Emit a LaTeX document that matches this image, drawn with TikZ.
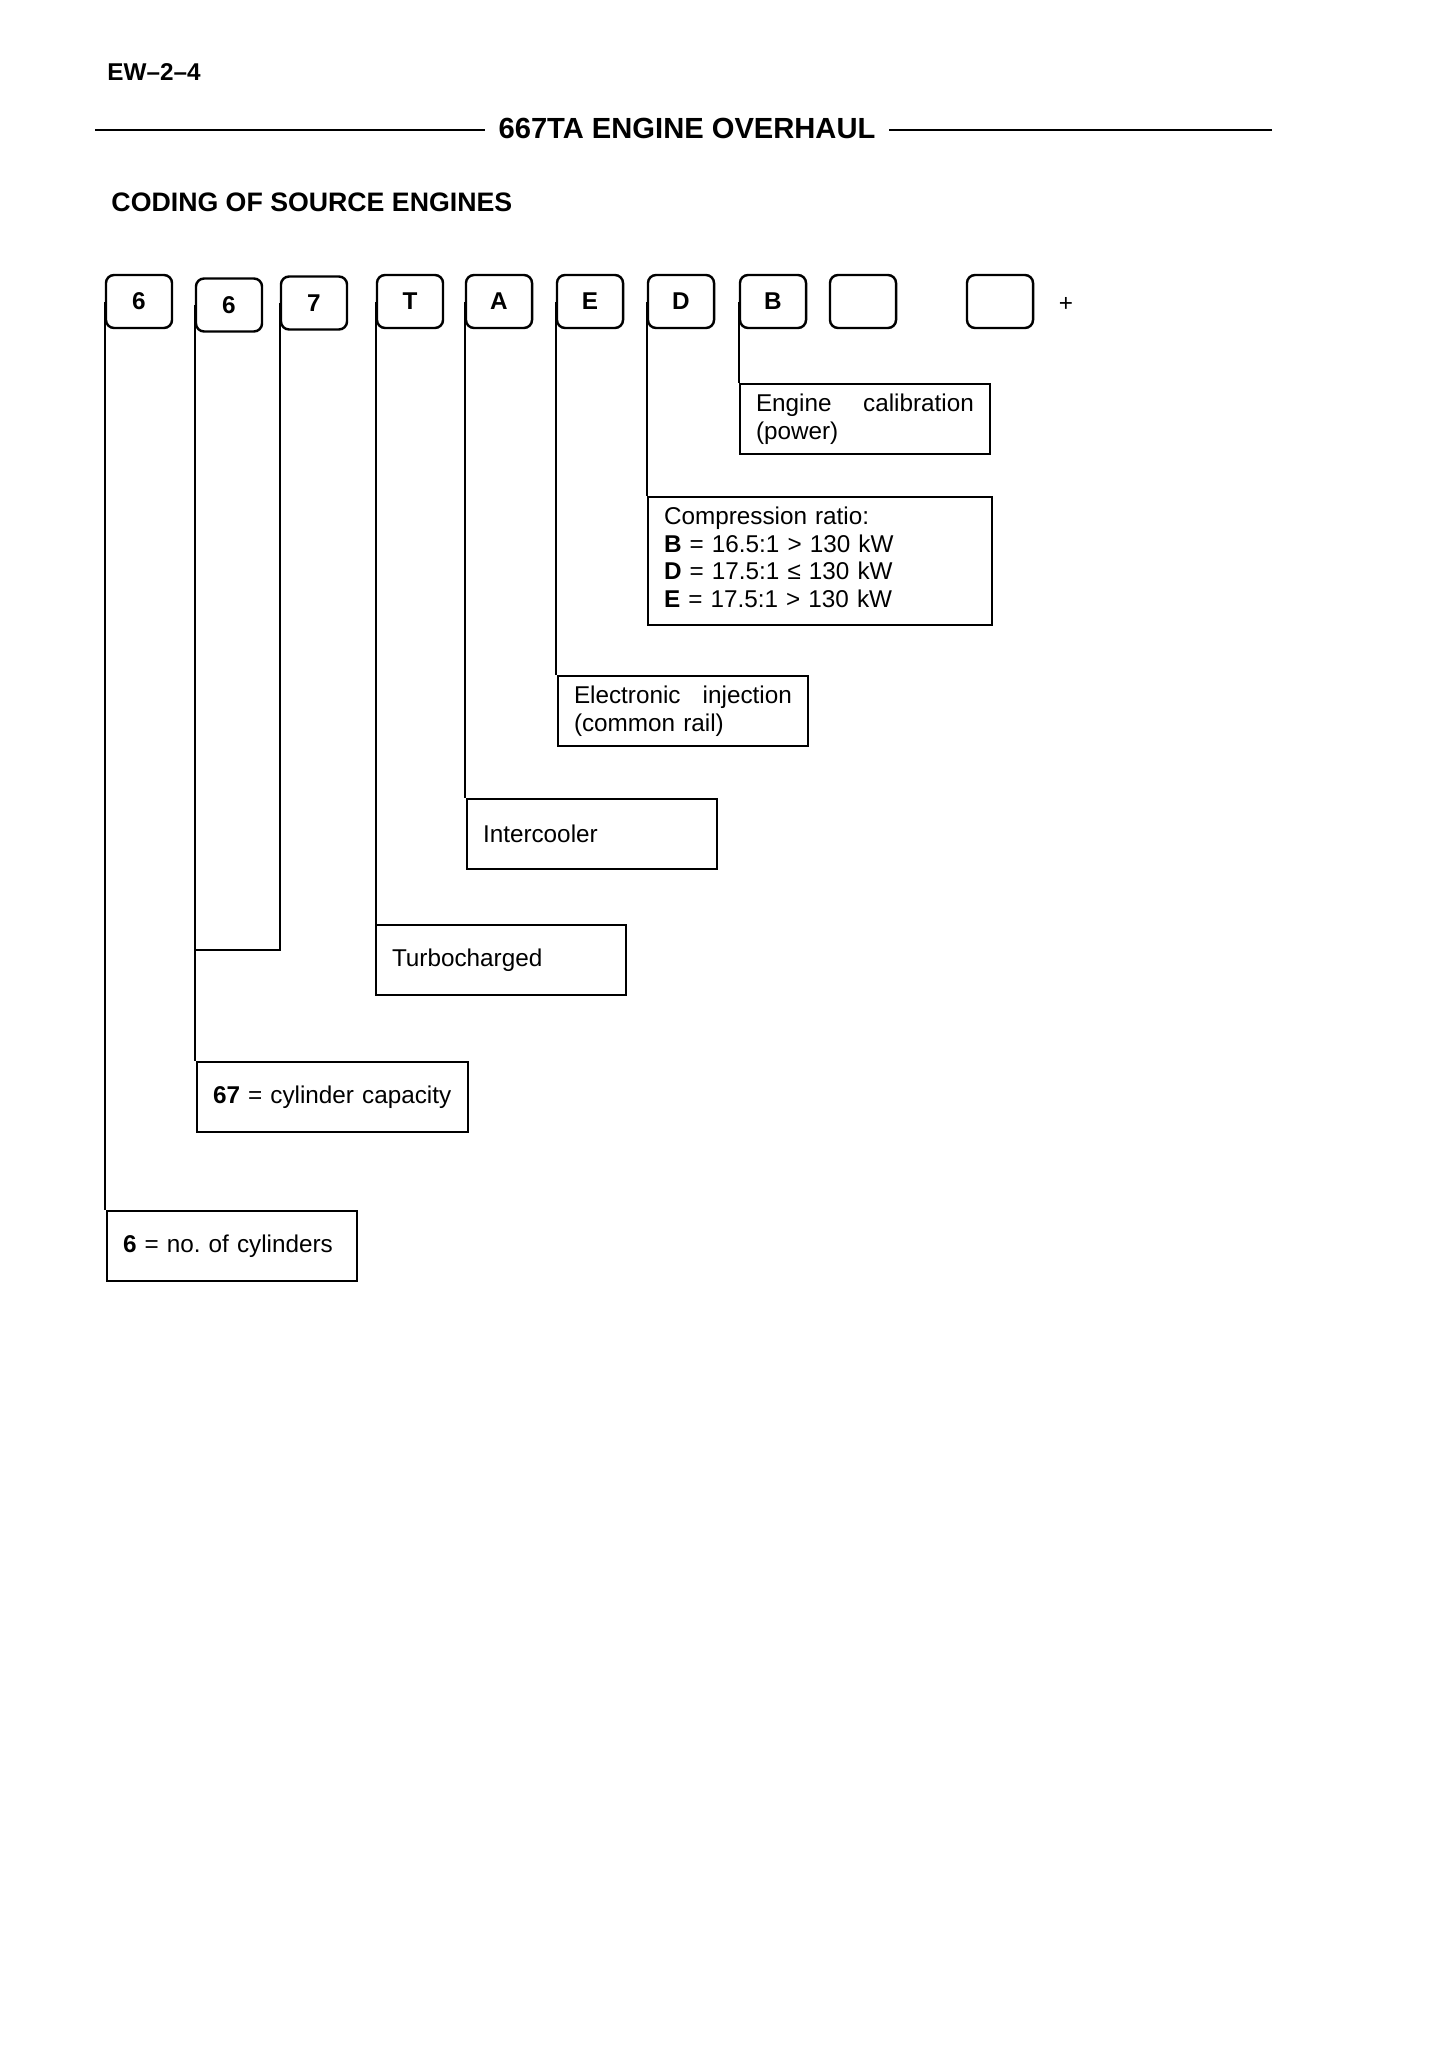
\documentclass[tikz,border=0pt]{standalone}
\usepackage{fontspec}
\setmainfont{Liberation Sans}
\usepackage{tikz}
\usetikzlibrary{positioning}
\frenchspacing
\tikzset{
  codebox/.style={draw,line width=1pt,rounded corners=3.3pt,minimum width=27.2pt,minimum height=21.8pt,inner sep=0pt,font=\bfseries\fontsize{10}{12}\selectfont},
  callout/.style={draw,line width=0.8pt,anchor=north west,align=left,inner xsep=6.6pt,inner ysep=2pt,font=\fontsize{10}{11.5}\selectfont},
  lead/.style={line width=0.7pt},
  rule/.style={line width=1.2pt},
  headtxt/.style={inner sep=0pt,anchor=base west,font=\bfseries\fontsize{10}{12}\selectfont}
}
\begin{document}
\begin{tikzpicture}[x=0.41176pt,y={(0pt,-0.41176pt)}]
  \useasboundingbox (0,0) rectangle (1445,2045);
  % page head
  \node[headtxt] (page) at (107,80) {EW–2–4};
  \node[inner xsep=5.5pt,inner ysep=0pt,anchor=base,font=\bfseries\fontsize{12}{14}\selectfont] (title) at (687,138) {667TA ENGINE OVERHAUL};
  \coordinate (ruleL) at (95,130);
  \coordinate (ruleR) at (1272,130);
  \draw[rule] (ruleL) -- (ruleL -| title.west);
  \draw[rule] (ruleR) -- (ruleR -| title.east);
  \node[headtxt,font=\bfseries\fontsize{11}{13}\selectfont] (heading) at (111,211) {CODING OF SOURCE ENGINES};
  % code letters
  \foreach \n/\x/\y/\t in {c1/139/301.5/6, c2/229/305/6, c3/314/303/7, c4/410/301.5/T, c5/499/301.5/A,
                           c6/590/301.5/E, c7/681/301.5/D, c8/773/301.5/B, c9/863/301.5/{}, c10/1000/301.5/{}}
    \node[codebox] (\n) at (\x,\y) {\t};
  \node[font=\fontsize{10}{12}\selectfont] (plus) at (1066,304) {+};
  % meaning boxes
  \node[callout,text width=89.7pt,minimum height=28.8pt] (calib) at (739,383) {Engine\hfill calibration\\(power)};
  \node[callout,text width=128.4pt,minimum height=52.7pt,inner ysep=1pt] (comp) at (647,496) {Compression ratio:\\
    \textbf{B} = 16.5:1 > 130 kW\\\textbf{D} = 17.5:1 ≤ 130 kW\\\textbf{E} = 17.5:1 > 130 kW\vspace{3pt}};
  \node[callout,text width=89.7pt,minimum height=28.8pt] (elec) at (557,675) {Electronic\hfill injection\\(common rail)};
  \node[callout,text width=89.7pt,minimum height=28.8pt] (inter) at (466,798) {Intercooler};
  \node[callout,text width=89.7pt,minimum height=28.8pt] (turbo) at (375,924) {Turbocharged};
  \node[callout,text width=98.4pt,minimum height=28.8pt] (cap) at (196,1061) {\textbf{67} = cylinder capacity};
  \node[callout,text width=89.7pt,minimum height=28.8pt] (cyl) at (106,1210) {\textbf{6} = no. of cylinders};
  % leads
  \coordinate (j67) at (196,950);
  \draw[lead] (c1.west) -- (c1.west |- cyl.north);
  \draw[lead] (c2.west) -- (c2.west |- cap.north);
  \draw[lead] (c3.west) |- (j67);
  \draw[lead] (c4.west) -- (c4.west |- turbo.north);
  \draw[lead] (c5.west) -- (c5.west |- inter.north);
  \draw[lead] (c6.west) -- (c6.west |- elec.north);
  \draw[lead] (c7.west) -- (c7.west |- comp.north);
  \draw[lead] (c8.west) -- (c8.west |- calib.north);
\end{tikzpicture}
\end{document}
